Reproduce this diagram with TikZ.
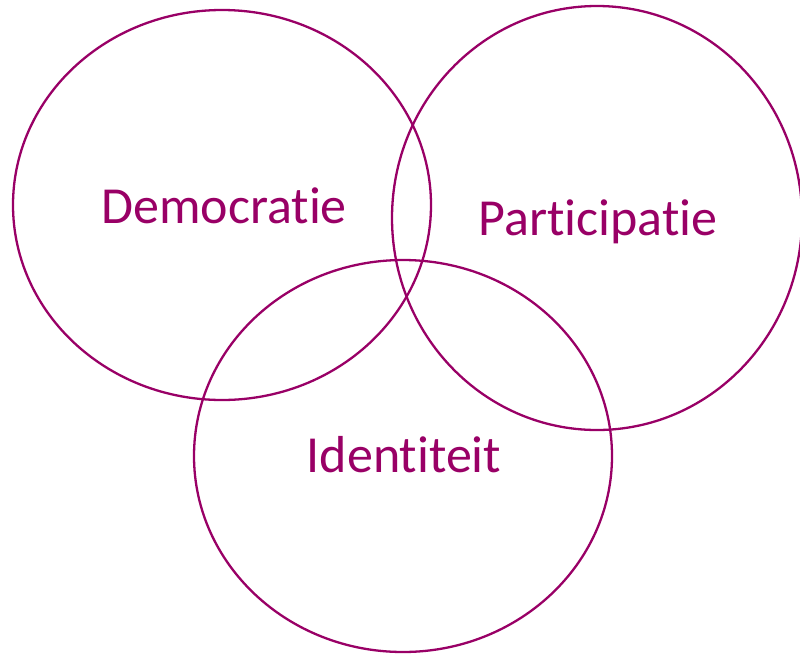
\documentclass[tikz,border=0pt]{standalone}
\usepackage{fontspec}
\setmainfont[Ligatures={NoCommon}]{Carlito}
\definecolor{venn}{HTML}{990066}
\begin{document}
\begin{tikzpicture}[x=1pt,y=-1pt,
  ring/.style={draw=venn,line width=2.3pt},
  lbl/.style={text=venn,font=\fontsize{52}{60}\selectfont,anchor=base,inner sep=0pt}]
\useasboundingbox (0,0) rectangle (800,654);
\draw[ring] (222,205) ellipse [x radius=209,y radius=195];
\draw[ring] (597,218) ellipse [x radius=205,y radius=212];
\draw[ring] (403,456) ellipse [x radius=209,y radius=196];
\node[lbl] (dem) at (224,223) {Democratie};
\node[lbl] (par) at (598,235) {Participatie};
\node[lbl] (ide) at (404,472) {Identiteit};
\end{tikzpicture}
\end{document}
